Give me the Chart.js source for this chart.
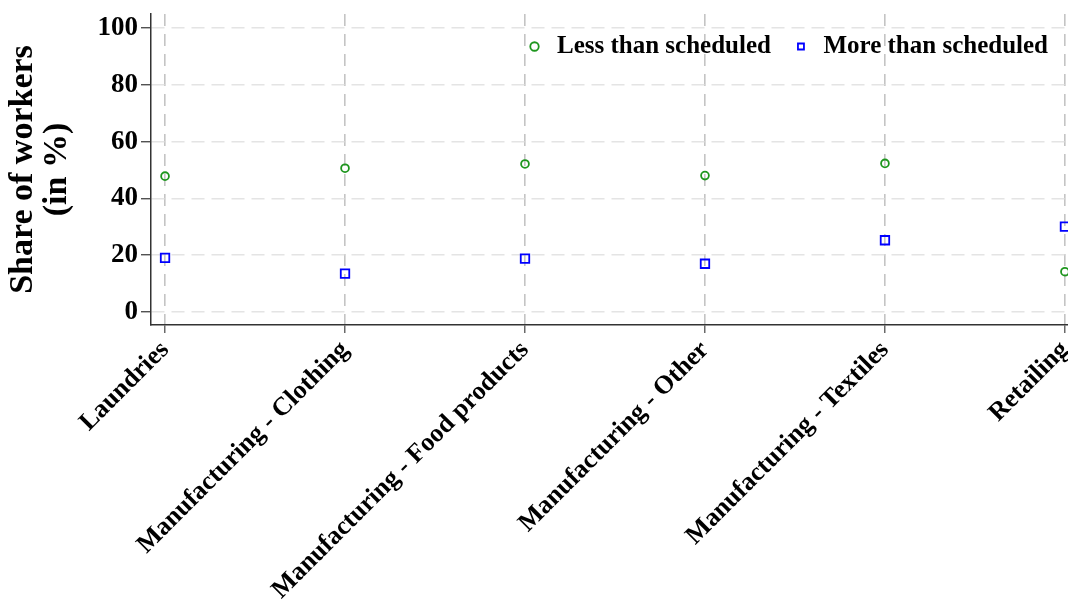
<!DOCTYPE html>
<html lang="en">
<head>
    <meta charset="UTF-8">
    <title>Share of workers</title>
    <script src="https://cdn.jsdelivr.net/npm/chart.js@4.4.1/dist/chart.umd.min.js"></script>
    <style>
        html, body {
            margin: 0;
            overflow: hidden;
            background: #fff;
        }

        #wrap {
            width: 1068px;
            height: 600px;
        }
    </style>
</head>
<body>

<div id="wrap">
    <canvas id="chart"></canvas>
</div>

<script>
    let categories = [
        'Laundries',
        'Manufacturing - Clothing',
        'Manufacturing - Food products',
        'Manufacturing - Other',
        'Manufacturing - Textiles',
        'Retailing',
    ]
    let lessThanScheduled = [47.8, 50.6, 52.1, 48.0, 52.3, 14.1]
    let moreThanScheduled = [19.0, 13.4, 18.7, 16.9, 25.2, 30.0]
    let yTicks = [0, 20, 40, 60, 80, 100]

    let serif = 'Liberation Serif, Times New Roman, serif'
    let green = 'rgb(30,150,30)'
    let blue = 'rgb(0,0,255)'

    function points(values) {
        return values.map((value, index) => ({x: index, y: value}))
    }

    // the legend sits inside the plot area: it takes no room in the layout,
    // then gets its real height back so that it is drawn
    let legendInside = {
        id: 'legendInside',
        beforeLayout(chart) {
            let legend = chart.legend
            if (legend && !legend._inside) {
                let fit = legend.fit
                legend.fit = function () {
                    fit.call(this)
                    this._fullHeight = this.height
                    this.height = 0
                }
                legend._inside = true
            }
        },
        afterLayout(chart) {
            let legend = chart.legend
            if (legend && legend._fullHeight) {
                legend.height = legend._fullHeight
                legend.bottom = legend.top + legend.height
            }
        },
    }

    let ctx = document.getElementById('chart').getContext('2d')
    let chart = new Chart(ctx, {
        type: 'scatter',
        data: {
            datasets: [
                {
                    label: 'Less than scheduled',
                    data: points(lessThanScheduled),
                    pointStyle: 'circle',
                    pointRadius: 3.9,
                    pointBorderWidth: 1.8,
                    borderColor: green,
                    backgroundColor: 'rgba(0,0,0,0)',
                    clip: false,
                },
                {
                    label: 'More than scheduled',
                    data: points(moreThanScheduled),
                    pointStyle: 'rect',
                    pointRadius: 6,
                    pointBorderWidth: 1.8,
                    borderColor: blue,
                    backgroundColor: 'rgba(0,0,0,0)',
                    clip: false,
                },
            ],
        },
        options: {
            responsive: true,
            maintainAspectRatio: false,
            animation: false,
            layout: {
                autoPadding: false,
                padding: {top: 14, right: 0, left: 0, bottom: 0},
            },
            scales: {
                x: {
                    type: 'linear',
                    min: -0.078,
                    max: 5.017,
                    afterBuildTicks: scale => {
                        scale.ticks = categories.map((name, index) => ({value: index}))
                    },
                    afterFit: scale => {
                        scale.height = 275
                        scale.paddingLeft = 0
                        scale.paddingRight = 0
                    },
                    ticks: {
                        autoSkip: false,
                        minRotation: 45,
                        maxRotation: 45,
                        padding: 2,
                        color: '#000',
                        font: {family: serif, size: 26, weight: 'bold'},
                        callback: value => categories[value],
                    },
                    grid: {
                        color: '#c4c4c4',
                        lineWidth: 1.6,
                        tickColor: '#444',
                        tickWidth: 1.2,
                        tickLength: 8,
                        tickBorderDash: [],
                    },
                    border: {
                        color: '#333',
                        width: 1.5,
                        dash: [12, 8],
                    },
                },
                y: {
                    min: -4.7,
                    max: 105,
                    afterBuildTicks: scale => {
                        scale.ticks = yTicks.map(value => ({value: value}))
                    },
                    afterFit: scale => {
                        scale.width = 151
                        scale.paddingTop = 0
                        scale.paddingBottom = 0
                    },
                    ticks: {
                        padding: 3,
                        color: '#000',
                        font: {family: serif, size: 27, weight: 'bold'},
                    },
                    grid: {
                        color: '#e4e4e4',
                        lineWidth: 1.5,
                        tickColor: '#333',
                        tickWidth: 1.2,
                        tickLength: 10,
                        tickBorderDash: [],
                    },
                    border: {
                        color: '#333',
                        width: 1.5,
                        dash: [13, 7],
                    },
                    title: {
                        display: true,
                        text: ['Share of workers', '(in %)'],
                        color: '#000',
                        font: {family: serif, size: 34, weight: 'bold', lineHeight: 1.0},
                        padding: {top: 6, bottom: 0},
                    },
                },
            },
            plugins: {
                tooltip: {enabled: false},
                legend: {
                    position: 'top',
                    align: 'end',
                    fullSize: false,
                    labels: {
                        usePointStyle: true,
                        boxWidth: 20,
                        boxHeight: 6,
                        padding: 20,
                        color: '#000',
                        font: {family: serif, size: 25, weight: 'bold'},
                    },
                },
            },
        },
        plugins: [legendInside],
    })
</script>
</body>
</html>
